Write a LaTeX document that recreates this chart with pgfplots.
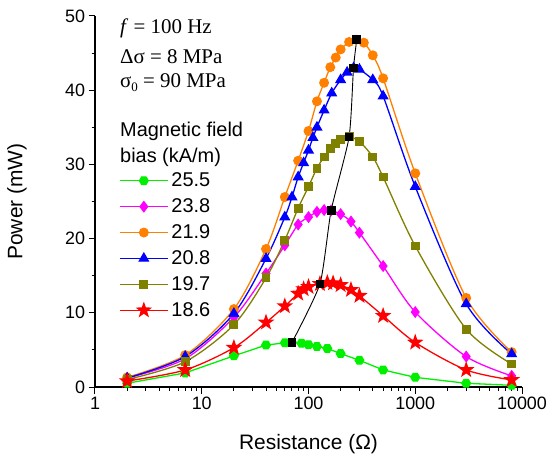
\documentclass[border=0pt]{standalone}
\usepackage{fontspec}
\setmainfont{Liberation Sans}
\newfontfamily\tms{Liberation Serif}
\usepackage{pgfplots}
\pgfplotsset{compat=1.18}
\usetikzlibrary{plotmarks}
\definecolor{cgreen}{RGB}{0,240,0}
\definecolor{cmag}{RGB}{255,0,255}
\definecolor{corange}{RGB}{255,128,0}
\definecolor{cblue}{RGB}{0,0,255}
\definecolor{colive}{RGB}{128,128,0}
\definecolor{cred}{RGB}{255,0,0}
\pgfdeclareplotmark{hexa*}{%
  \pgfpathmoveto{\pgfpointpolar{0}{\pgfplotmarksize}}%
  \pgfpathlineto{\pgfpointpolar{60}{\pgfplotmarksize}}%
  \pgfpathlineto{\pgfpointpolar{120}{\pgfplotmarksize}}%
  \pgfpathlineto{\pgfpointpolar{180}{\pgfplotmarksize}}%
  \pgfpathlineto{\pgfpointpolar{240}{\pgfplotmarksize}}%
  \pgfpathlineto{\pgfpointpolar{300}{\pgfplotmarksize}}%
  \pgfpathclose\pgfusepathqfillstroke}
\pgfdeclareplotmark{fstar}{%
  \pgfpathmoveto{\pgfpointpolar{90}{1.3\pgfplotmarksize}}%
  \pgfpathlineto{\pgfpointpolar{126}{0.52\pgfplotmarksize}}%
  \pgfpathlineto{\pgfpointpolar{162}{1.3\pgfplotmarksize}}%
  \pgfpathlineto{\pgfpointpolar{198}{0.52\pgfplotmarksize}}%
  \pgfpathlineto{\pgfpointpolar{234}{1.3\pgfplotmarksize}}%
  \pgfpathlineto{\pgfpointpolar{270}{0.52\pgfplotmarksize}}%
  \pgfpathlineto{\pgfpointpolar{306}{1.3\pgfplotmarksize}}%
  \pgfpathlineto{\pgfpointpolar{342}{0.52\pgfplotmarksize}}%
  \pgfpathlineto{\pgfpointpolar{18}{1.3\pgfplotmarksize}}%
  \pgfpathlineto{\pgfpointpolar{54}{0.52\pgfplotmarksize}}%
  \pgfpathclose\pgfusepathqfillstroke}
\begin{document}
\begin{tikzpicture}
\begin{axis}[name=ax, scale only axis, width=427bp, height=371bp,
  xmode=log, xmin=1, xmax=10000, ymin=0, ymax=50,
  axis x line*=bottom, axis y line*=left,
  xtick={1,10,100,1000,10000}, xticklabels={1,10,100,1000,10000},
  minor xtick={2,3,4,5,6,7,8,9,20,30,40,50,60,70,80,90,200,300,400,500,600,700,800,900,2000,3000,4000,5000,6000,7000,8000,9000},
  ytick={0,10,20,30,40,50}, minor ytick={5,15,25,35,45},
  tick align=outside, major tick length=6.5bp, minor tick length=3.5bp,
  every tick/.style={black, line width=1bp},
  axis line style={black, line width=1.1bp},
  tick label style={font=\fontsize{18}{20}\selectfont},
  /pgf/number format/assume math mode=true,
  xlabel={Resistance (Ω)}, ylabel={Power (mW)},
  every axis x label/.style={at={(axis description cs:0.5,-0.154)}, anchor=center, font=\fontsize{21}{24}\selectfont},
  every axis y label/.style={at={(axis description cs:-0.183,0.5)}, rotate=90, anchor=center, font=\fontsize{21}{24}\selectfont},
  clip=false,
  legend cell align=left,
  legend image code/.code={\draw[mark repeat=2, mark phase=2, #1] plot coordinates {(0bp,0bp) (24bp,0bp) (48bp,0bp)};},
  legend style={draw=none, fill=none, inner sep=0pt, row sep=8.5bp, column sep=2bp,
    nodes={inner sep=1bp}, font=\fontsize{20}{24}\selectfont,
    at={(axis description cs:0.0562,0.580)}, anchor=north west},
]
\addplot[cgreen, line width=1.3bp, mark=hexa*, mark size=4.3bp, mark options={solid}] coordinates {
(2,0.5) (7,1.9) (20,4.2) (40,5.65) (60,5.95) (70,6.0) (86,5.9) (100,5.7) (120,5.45) (150,5.2) (200,4.5) (300,3.6) (500,2.3) (1000,1.3) (3000,0.5) (8000,0.23)};
\addlegendentry{25.5}
\addplot[cmag, line width=1.3bp, smooth, mark=diamond*, mark size=5bp] coordinates {
(2,1.2) (7,3.8) (20,9.4) (40,15.3) (60,19.1) (80,21.9) (100,22.9) (120,23.6) (140,23.85) (163,23.8) (200,23.3) (250,22.3) (300,20.8) (500,16.3) (1000,10.1) (3000,4.1) (8000,1.5)};
\addlegendentry{23.8}
\addplot[corange, line width=1.3bp, smooth, mark=*, mark size=4.3bp] coordinates {
(2,1.3) (7,4.3) (20,10.5) (40,18.6) (60,25.6) (80,30.5) (100,34.5) (120,38.5) (140,41.0) (160,43.1) (180,44.4) (200,45.5) (240,46.5) (280,46.8) (330,46.4) (400,44.7) (500,41.6) (1000,28.8) (3000,12.0) (8000,4.7)};
\addlegendentry{21.9}
\addplot[cblue, line width=1.3bp, smooth, mark=triangle*, mark size=5.2bp] coordinates {
(2,1.2) (7,4.1) (20,9.9) (40,17.3) (60,22.9) (70,25.6) (80,28.3) (90,30.2) (100,31.9) (110,33.6) (120,35.0) (140,37.3) (165,39.6) (200,41.4) (230,42.4) (265,43.0) (300,42.8) (400,41.4) (500,39.2) (1000,27.0) (3000,11.2) (8000,4.45)};
\addlegendentry{20.8}
\addplot[colive, line width=1.3bp, smooth, mark=square*, mark size=3.8bp] coordinates {
(2,1.0) (7,3.4) (20,8.4) (40,14.7) (60,19.8) (80,24.1) (100,27.0) (120,29.5) (140,31.0) (160,32.2) (180,32.8) (200,33.3) (240,33.7) (300,33.1) (400,31.0) (500,28.3) (1000,19.0) (3000,7.8) (8000,3.1)};
\addlegendentry{19.7}
\addplot[cred, line width=1.3bp, smooth, mark=fstar, mark size=5.2bp] coordinates {
(2,0.8) (7,2.3) (20,5.3) (40,8.7) (60,10.9) (80,12.6) (90,13.2) (100,13.5) (128,13.9) (150,14.05) (170,14.0) (200,13.75) (250,13.1) (300,12.3) (500,9.6) (1000,6.0) (3000,2.3) (8000,0.95)};
\addlegendentry{18.6}
\addplot[black, line width=0.9bp, smooth, tension=0.35, mark=square*, mark size=3.8bp, forget plot] coordinates {
(70,6.0) (128,13.9) (163,23.8) (240,33.7) (264,43.0) (283,46.8)};
\node[anchor=base west, font=\tms\fontsize{21}{24}\selectfont, inner sep=0pt] at (axis description cs:0.0585,0.954) {\textit{f} = 100 Hz};
\node[anchor=base west, font=\tms\fontsize{21}{24}\selectfont, inner sep=0pt] at (axis description cs:0.0585,0.873) {Δσ = 8 MPa};
\node[anchor=base west, font=\tms\fontsize{21}{24}\selectfont, inner sep=0pt] at (axis description cs:0.0585,0.806) {σ\raisebox{-0.35ex}{\fontsize{13}{14}\selectfont 0} = 90 MPa};
\node[anchor=base west, font=\fontsize{20}{24}\selectfont, inner sep=0pt] at (axis description cs:0.0585,0.674) {Magnetic field};
\node[anchor=base west, font=\fontsize{20}{24}\selectfont, inner sep=0pt] at (axis description cs:0.0585,0.606) {bias (kA/m)};
\end{axis}
\path ([xshift=-95bp,yshift=-73bp]ax.south west) rectangle ([xshift=30bp,yshift=16bp]ax.north east);
\end{tikzpicture}
\end{document}
